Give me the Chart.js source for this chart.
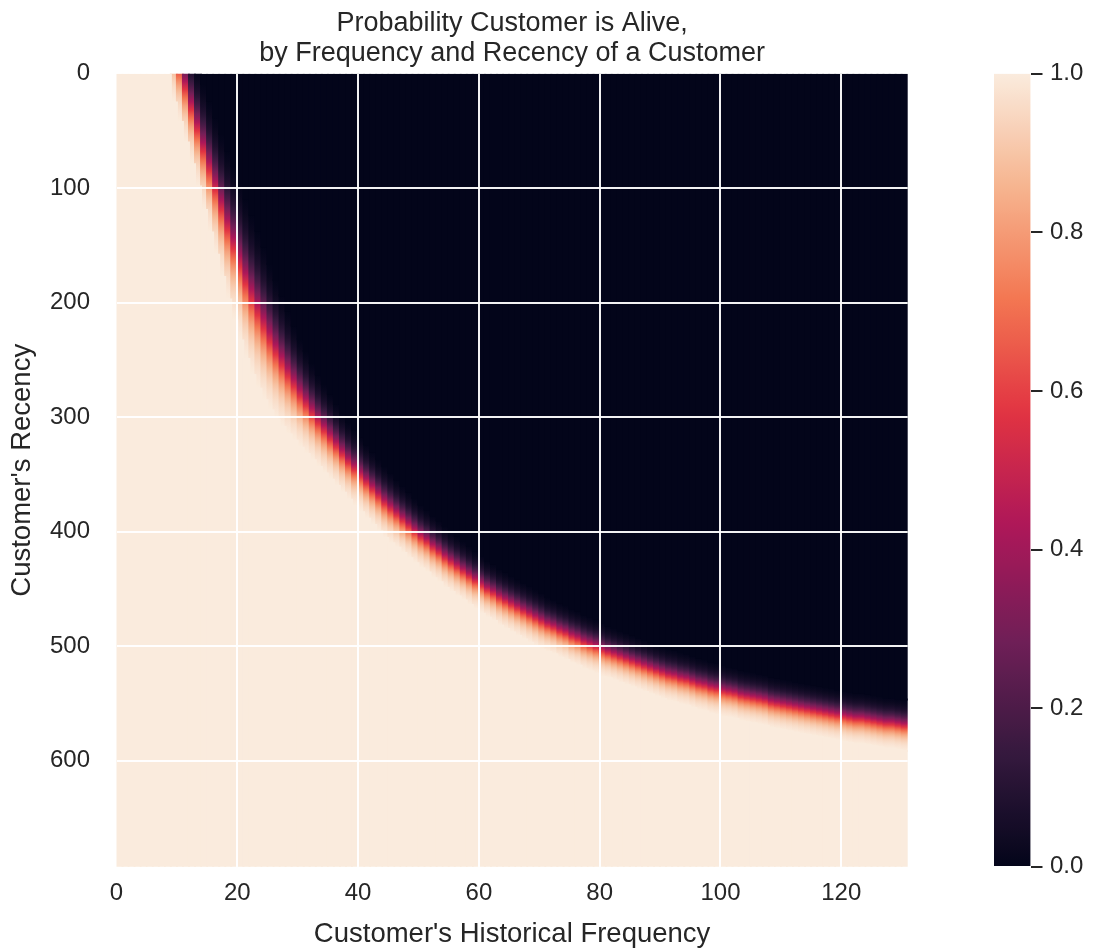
<!DOCTYPE html>
<html>
<head>
<meta charset="utf-8">
<title>Probability Customer is Alive</title>
<script src="https://cdn.jsdelivr.net/npm/chart.js@4.4.1/dist/chart.umd.min.js"></script>
<style>
  html, body { margin: 0; padding: 0; background: #ffffff; }
  #wrap { position: relative; width: 1096px; height: 951px; }
  #matrix { position: absolute; left: 0; top: 0; }
  #colorbar { position: absolute; left: 990px; top: 0; }
</style>
</head>
<body>
<div id="wrap">
  <canvas id="matrix" width="1096" height="951"></canvas>
  <canvas id="colorbar" width="106" height="951"></canvas>
</div>
<script>
// ---- data -------------------------------------------------------------
// One column per historical frequency value (column k spans k .. k+1).
const frequencies = Array.from({ length: 131 }, (_, k) => k);

// Recency at which P(alive) crosses 0.5 in each frequency column
// (null: the column is alive over its whole recency range).
const recencyAtHalf = [
  null, null, null, null, null, null, null, null, null,
  -25, -8, 10, 28, 46, 64, 81, 98, 115, 132,
  148, 164, 179, 193, 206, 218, 230, 241, 251, 261,
  270, 279, 287, 295, 303, 310, 317, 324, 331, 338,
  344, 350, 356, 362, 368, 374, 379, 384, 389, 394,
  399, 404, 408, 413, 417, 422, 426, 430, 434, 438,
  442, 446, 450, 453, 457, 460, 463, 466, 469, 472,
  475, 478, 481, 483, 486, 488, 491, 493, 496, 498,
  500, 503, 505, 507, 509, 511, 513, 515, 517, 519,
  521, 523, 525, 526, 528, 529, 531, 533, 534, 536,
  537, 539, 540, 541, 543, 544, 545, 546, 547, 549,
  550, 551, 552, 553, 554, 555, 556, 557, 558, 559,
  560, 561, 562, 563, 563, 564, 565, 566, 567, 567,
  568, 569
];

// Recency range over which each column fades from dead (0) to alive (1).
const fadeSpan = [
  null, null, null, null, null, null, null, null, null,
  100, 100, 100, 102, 105, 110, 115, 120, 125, 130,
  135, 138, 140, 140, 138, 134, 128, 122, 115, 108,
  101, 95, 90, 85, 81, 78, 75, 72, 70, 68,
  67, 66, 65, 64, 63, 63, 62, 60, 59, 58,
  57, 56, 55, 55, 54, 54, 53, 53, 52, 52,
  51, 51, 50, 50, 50, 50, 50, 50, 50, 50,
  50, 50, 48, 48, 48, 48, 48, 48, 48, 48,
  48, 48, 46, 46, 46, 46, 46, 46, 46, 46,
  46, 46, 46, 46, 46, 46, 46, 46, 46, 46,
  46, 46, 45, 45, 45, 45, 45, 45, 45, 45,
  45, 45, 45, 45, 45, 45, 45, 45, 45, 45,
  45, 45, 45, 45, 45, 45, 45, 45, 45, 45,
  45, 45
];

const recencyLimit = 692.5;
const frequencyLimit = 131;
const xTickValues = [0, 20, 40, 60, 80, 100, 120];
const yTickValues = [0, 100, 200, 300, 400, 500, 600];
const barTickValues = [0, 0.2, 0.4, 0.6, 0.8, 1.0];

// ---- colour map (rocket) ---------------------------------------------
const ROCKET = [
  [0, [3, 5, 26]],
  [1 / 7, [53, 25, 62]],
  [2 / 7, [112, 31, 87]],
  [3 / 7, [173, 23, 89]],
  [4 / 7, [225, 51, 66]],
  [5 / 7, [243, 118, 81]],
  [6 / 7, [246, 180, 143]],
  [1, [250, 235, 221]]
];
function rocket(p) {
  p = Math.min(1, Math.max(0, p));
  for (let i = 1; i < ROCKET.length; i++) {
    const [p1, c1] = ROCKET[i];
    if (p <= p1) {
      const [p0, c0] = ROCKET[i - 1];
      const t = (p - p0) / (p1 - p0);
      const c = c0.map((v, j) => Math.round(v + (c1[j] - v) * t));
      return `rgb(${c[0]},${c[1]},${c[2]})`;
    }
  }
  return 'rgb(250,235,221)';
}
const DEAD = rocket(0);
const ALIVE = rocket(1);
const TEXT = '#262626';
Chart.defaults.font.family = '"Liberation Sans", Arial, Helvetica, sans-serif';
Chart.defaults.color = TEXT;

// ---- column segments ---------------------------------------------------
const deadPart = frequencies.map((f, i) => {
  const r = recencyAtHalf[i];
  const end = r === null ? null : r - fadeSpan[i] / 2;
  return { x: f + 0.5, y: end !== null && end > 0 ? [0, end] : null };
});
const fadePart = frequencies.map((f, i) => {
  const r = recencyAtHalf[i];
  return { x: f + 0.5, y: r === null ? null : [r - fadeSpan[i] / 2, r + fadeSpan[i] / 2] };
});
const alivePart = frequencies.map((f, i) => {
  const r = recencyAtHalf[i];
  const start = r === null ? 0 : Math.max(0, r + fadeSpan[i] / 2);
  return { x: f + 0.5, y: start < recencyLimit ? [start, recencyLimit] : null };
});

// Vertical gradient through the transition of one column.
function fadeFill(ctx) {
  if (ctx.type !== 'data') return ALIVE;
  const i = ctx.dataIndex;
  const chart = ctx.chart;
  const ys = chart.scales.y;
  const r = recencyAtHalf[i];
  if (!chart.chartArea || !ys || r === null) return ALIVE;
  const s = fadeSpan[i];
  const y0 = ys.getPixelForValue(r - s / 2);
  const y1 = ys.getPixelForValue(r + s / 2);
  if (!isFinite(y0) || !isFinite(y1) || y0 === y1) return ALIVE;
  const g = chart.ctx.createLinearGradient(0, y0, 0, y1);
  const N = 28, zMax = 3.9;
  const lo = 1 / (1 + Math.exp(zMax)), hi = 1 / (1 + Math.exp(-zMax));
  for (let k = 0; k <= N; k++) {
    const t = k / N;
    const z = -zMax + 2 * zMax * t;
    const p = (1 / (1 + Math.exp(-z)) - lo) / (hi - lo);
    g.addColorStop(t, rocket(p));
  }
  return g;
}

const gridColor = (c) => (c.tick && c.tick.value === 0 ? 'rgba(255,255,255,0)' : 'rgba(255,255,255,0.95)');

const segmentStyle = {
  borderWidth: 0,
  borderSkipped: false,
  barPercentage: 1,
  categoryPercentage: 1,
  inflateAmount: 1,
  grouped: false
};

new Chart(document.getElementById('matrix'), {
  type: 'bar',
  data: {
    datasets: [
      Object.assign({ label: 'dead', data: deadPart, backgroundColor: DEAD }, segmentStyle),
      Object.assign({ label: 'alive', data: alivePart, backgroundColor: ALIVE }, segmentStyle),
      Object.assign({ label: 'transition', data: fadePart, backgroundColor: fadeFill }, segmentStyle)
    ]
  },
  options: {
    responsive: false,
    animation: false,
    events: [],
    layout: { padding: { left: 0, right: 188.3, top: 0, bottom: 0 } },
    plugins: {
      legend: { display: false },
      tooltip: { enabled: false },
      title: {
        display: true,
        fullSize: false,
        text: ['Probability Customer is Alive,', 'by Frequency and Recency of a Customer'],
        color: TEXT,
        font: { size: 27, weight: 'normal', lineHeight: 1.13 },
        padding: { top: 8.2, bottom: 4.6 }
      }
    },
    scales: {
      x: {
        type: 'linear',
        min: 0,
        max: frequencyLimit,
        offset: false,
        afterBuildTicks: (s) => { s.ticks = xTickValues.map((v) => ({ value: v })); },
        afterFit: (s) => { s.height = 84.3; },
        ticks: { padding: 12, color: TEXT, font: { size: 24 }, callback: (v) => String(v) },
        grid: { z: 1, offset: false, color: gridColor, lineWidth: 2, drawTicks: false },
        border: { display: false },
        title: {
          display: true,
          text: "Customer's Historical Frequency",
          color: TEXT,
          font: { size: 27.5 },
          padding: { top: 0, bottom: 0 }
        }
      },
      y: {
        type: 'linear',
        reverse: true,
        min: 0,
        max: recencyLimit,
        afterBuildTicks: (s) => { s.ticks = yTickValues.map((v) => ({ value: v })); },
        afterFit: (s) => { s.width = 116.5; },
        ticks: { padding: 26.5, color: TEXT, font: { size: 24 }, callback: (v) => String(v) },
        grid: { z: 1, color: gridColor, lineWidth: 2, drawTicks: false },
        border: { display: false },
        title: {
          display: true,
          text: "Customer's Recency",
          color: TEXT,
          font: { size: 27.5 },
          padding: { top: 5.5, bottom: 0 }
        }
      }
    }
  }
});

// ---- colour bar ------------------------------------------------------
function barFill(ctx) {
  const chart = ctx.chart;
  const ys = chart.scales.y;
  if (!chart.chartArea || !ys) return ALIVE;
  const y0 = ys.getPixelForValue(0);
  const y1 = ys.getPixelForValue(1);
  if (!isFinite(y0) || !isFinite(y1) || y0 === y1) return ALIVE;
  const g = chart.ctx.createLinearGradient(0, y0, 0, y1);
  const N = 60;
  for (let k = 0; k <= N; k++) g.addColorStop(k / N, rocket(k / N));
  return g;
}

new Chart(document.getElementById('colorbar'), {
  type: 'bar',
  data: {
    labels: ['P(alive)'],
    datasets: [{
      data: [[0, 1]],
      backgroundColor: barFill,
      borderWidth: 0,
      borderSkipped: false,
      barPercentage: 1,
      categoryPercentage: 1
    }]
  },
  options: {
    responsive: false,
    animation: false,
    events: [],
    layout: { padding: { left: 4, right: 0, top: 73.8, bottom: 84.3 } },
    plugins: { legend: { display: false }, tooltip: { enabled: false } },
    scales: {
      x: { display: false },
      y: {
        position: 'right',
        min: 0,
        max: 1,
        afterBuildTicks: (s) => { s.ticks = barTickValues.map((v) => ({ value: v })); },
        afterFit: (s) => { s.width = 65.5; },
        ticks: { padding: 7.5, color: TEXT, font: { size: 24 }, callback: (v) => Number(v).toFixed(1) },
        grid: { drawOnChartArea: false, drawTicks: true, tickLength: 12, color: TEXT, lineWidth: 2 },
        border: { display: false }
      }
    }
  }
});
</script>
</body>
</html>
